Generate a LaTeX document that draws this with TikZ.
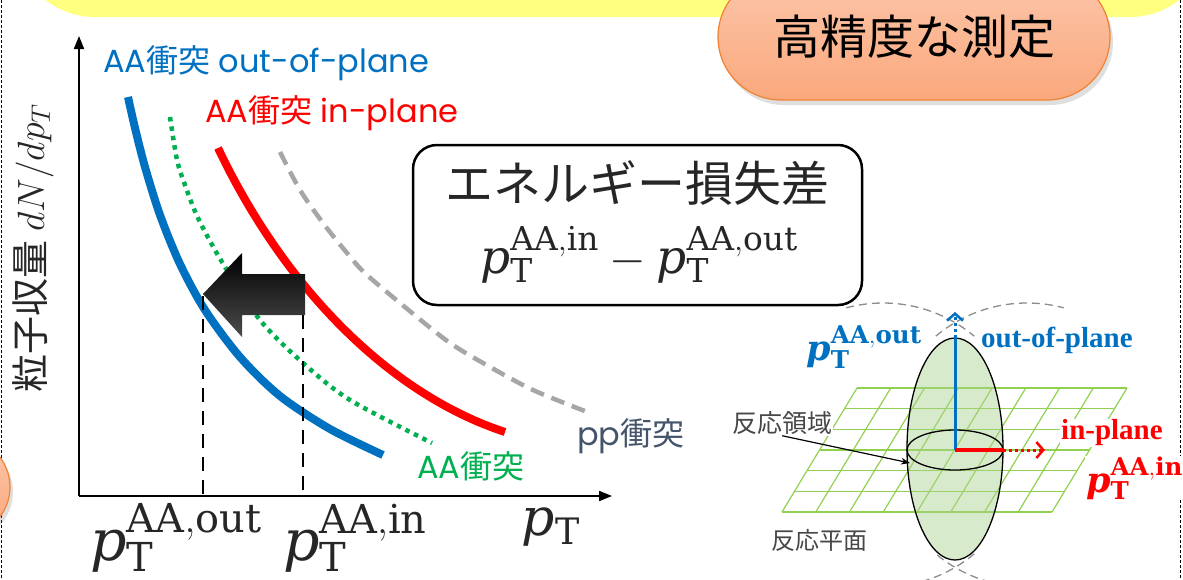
\RequirePackage{fix-cm}
\documentclass[tikz,border=0pt]{standalone}
\usepackage{fontspec}
\setmainfont{DejaVu Serif}
\newfontfamily\jp{Noto Sans CJK JP}
\newfontfamily\geo{Poppins}
\newfontfamily\tnr{Liberation Serif}
\usetikzlibrary{arrows.meta,shadows}
\newcommand{\fsz}[1]{\fontsize{#1}{#1}\selectfont}
\newcommand{\ptof}[1]{\mathit{p}_{\mathrm{T}}^{\mathrm{#1}}}
\newcommand{\bptof}[1]{\mbox{\bfseries\itshape p}_{\mathbf{T}}^{\mathbf{#1}}}
\definecolor{aablue}{RGB}{0,112,192}
\definecolor{aared}{RGB}{255,0,0}
\definecolor{aagreen}{RGB}{0,176,80}
\definecolor{ppgray}{RGB}{166,166,166}
\definecolor{ppslate}{RGB}{68,84,106}
\definecolor{banner}{RGB}{255,255,128}
\definecolor{pilltop}{RGB}{252,198,170}
\definecolor{pillbot}{RGB}{250,168,124}
\definecolor{pillline}{RGB}{240,130,50}
\definecolor{gridgreen}{RGB}{146,208,80}
\definecolor{zonegreen}{RGB}{169,208,142}
\definecolor{txtdark}{RGB}{38,38,38}

\begin{document}
\begin{tikzpicture}[x=1pt,y=-1pt,
  spectrum/.style={line width=8pt},
  curvelbl/.style={anchor=west, inner sep=0pt, font=\geo\fsz{32}},
  guide/.style={line width=2.7pt, dash pattern=on 14pt off 9pt},
  arrowaxis/.style={line width=2pt, -{Triangle[length=13pt,width=10pt]}},
  pill/.style={draw=pillline, line width=1.2pt, top color=pilltop, bottom color=pillbot, drop shadow={opacity=0.25, shadow xshift=3pt, shadow yshift=-5pt}},
  planeline/.style={gridgreen, line width=1.2pt},
  collision/.style={black!45, line width=1.3pt, dash pattern=on 8pt off 5pt},
  axisname/.style={font=\tnr\bfseries\fsz{29}, anchor=west, inner sep=1pt},
  bigp/.style={font=\fsz{35}, inner sep=1pt},
]
\useasboundingbox (0,0) rectangle (1183,579);
\clip (0,0) rectangle (1183,579);

\fill[banner, rounded corners=80pt] (15,-150) rectangle (1210,17);
\node[pill, rounded corners=63pt, minimum width=392pt, minimum height=126pt, font=\jp\fsz{47}] (measure) at (914,37) {高精度な測定};
\draw[densely dashed, line width=1pt] (1.5,0) -- (1.5,579);
\draw[densely dashed, line width=1pt] (1180.5,0) -- (1180.5,579);
\node[pill, rounded corners=49pt, minimum width=400pt, minimum height=98pt] (prev) at (-190,487) {};

% spectra
\coordinate (O) at (79,496);
\coordinate (ytip) at (79,36);
\coordinate (xtip) at (612,496);
\draw[arrowaxis] (O) -- (ytip);
\draw[arrowaxis] (O) -- (xtip);
\node[rotate=90, font=\jp\fsz{38}, txtdark] (ylbl) at (33,248) {粒子収量 $dN/dp_T$};

\draw[ppgray, line width=4.5pt, dash pattern=on 14pt off 8pt] plot[smooth] coordinates {(280,152) (300,190) (323,223) (347,253) (367,275) (417,317) (450,343) (483,363) (533,390) (590,413)};
\draw[aared, spectrum] (218,148) .. controls (288,295) and (395,396) .. (505,432);
\draw[aagreen, line width=4.5pt, dash pattern=on 4.5pt off 5pt] plot[smooth] coordinates {(170,117) (177,160) (185,185) (198,218) (222,262) (260,320) (303,363) (350,400) (432,443)};
\draw[aablue, spectrum] plot[smooth] coordinates {(128,97) (135,128) (145,167) (160,215) (180,264) (205,310) (240,357) (280,396) (330,429) (383,455)};

\coordinate (outcut) at (203,296);
\coordinate (incut) at (303,292);
\draw[guide] (outcut) -- (O -| outcut);
\draw[guide] (incut) -- (O -| incut);
\shade[top color=black, bottom color=black!70] (203,294) -- (242,253) -- (242,274) -- (305,274) -- (305,315) -- (242,315) -- (242,337) -- cycle;

\node[curvelbl, aablue] (outlbl) at (103,63) {AA{\jp 衝突} out-of-plane};
\node[curvelbl, aared] (inlbl) at (205,113) {AA{\jp 衝突} in-plane};
\node[curvelbl, aagreen] (aalbl) at (417,466) {AA{\jp 衝突}};
\node[curvelbl, ppslate] (pplbl) at (577,436) {pp{\jp 衝突}};

\node[font=\fsz{57}, txtdark] (outval) at (176,538) {$\ptof{AA,out}$};
\node[font=\fsz{57}, txtdark] (inval) at (355,538) {$\ptof{AA,in}$};
\node[font=\fsz{52}, txtdark] (ptlbl) at (551,527) {$\mathit{p}_{\mathrm{T}}$};

\node[draw, line width=2.5pt, rounded corners=24pt, minimum width=449pt, minimum height=160pt] (lossbox) at (637.5,225) {};
\node[font=\jp\fsz{48}, txtdark] (losstxt) at (637,183) {エネルギー損失差};
\node[font=\fsz{47}, txtdark] (lossval) at (639,255) {$\ptof{AA,in}-\ptof{AA,out}$};

% reaction plane
\foreach \i in {0,...,6}
  \draw[planeline] (857-12.5*\i,388+20.667*\i) -- (1127-12.5*\i,388+20.667*\i);
\foreach \j in {0,...,8}
  \draw[planeline] (857+33.75*\j,388) -- (782+33.75*\j,512);

\draw[collision] ([shift={(-105:142)}]883,445) arc[start angle=-105, end angle=-50, radius=142];
\draw[collision] ([shift={(-130:142)}]1027,445) arc[start angle=-130, end angle=-75, radius=142];
\draw[collision] ([shift={(50:142)}]883,445) arc[start angle=50, end angle=75, radius=142];
\draw[collision] ([shift={(105:142)}]1027,445) arc[start angle=105, end angle=130, radius=142];

\draw[line width=1.3pt, fill=zonegreen, fill opacity=0.45] (955,449) ellipse [x radius=48, y radius=111];
\draw[line width=1.3pt] (955,450) ellipse [x radius=48, y radius=20];

\coordinate (core) at (955,450);
\coordinate (outedge) at (955,338);
\coordinate (outtip) at (955,312);
\coordinate (inedge) at (1003,450);
\coordinate (intip) at (1045,450);
\draw[aablue, line width=3pt] (core) -- (outedge);
\draw[aablue, line width=3pt, dash pattern=on 3pt off 3pt, -{Straight Barb[length=7pt,width=16pt,line width=2.5pt]}] (outedge) -- (outtip);
\draw[aared, line width=4pt] (core) -- (inedge);
\draw[aared, line width=3pt, dash pattern=on 3pt off 3pt, -{Straight Barb[length=7pt,width=16pt,line width=2.5pt]}] (inedge) -- (intip);

\node[bigp, aablue] (outp) at (864,347) {$\bptof{AA,out}$};
\node[axisname, aablue] (outname) at (980,340) {out-of-plane};
\node[axisname, aared, fill=white] (inname) at (1060,433) {in-plane};
\node[bigp, aared, fill=white, anchor=west] (inp) at (1085,478) {$\bptof{AA,in}$};
\node[font=\jp\fsz{25}, txtdark!85, fill=white, inner sep=1pt, anchor=west] (zonelbl) at (731,423) {反応領域};
\node[font=\jp\fsz{24}, txtdark!85, inner sep=1pt, anchor=west] (planelbl) at (770,540) {反応平面};
\coordinate (zonept) at (910,463);
\draw[line width=1.2pt, -{Stealth[length=9pt]}] (zonelbl.south) -- (zonept);
\end{tikzpicture}
\end{document}
